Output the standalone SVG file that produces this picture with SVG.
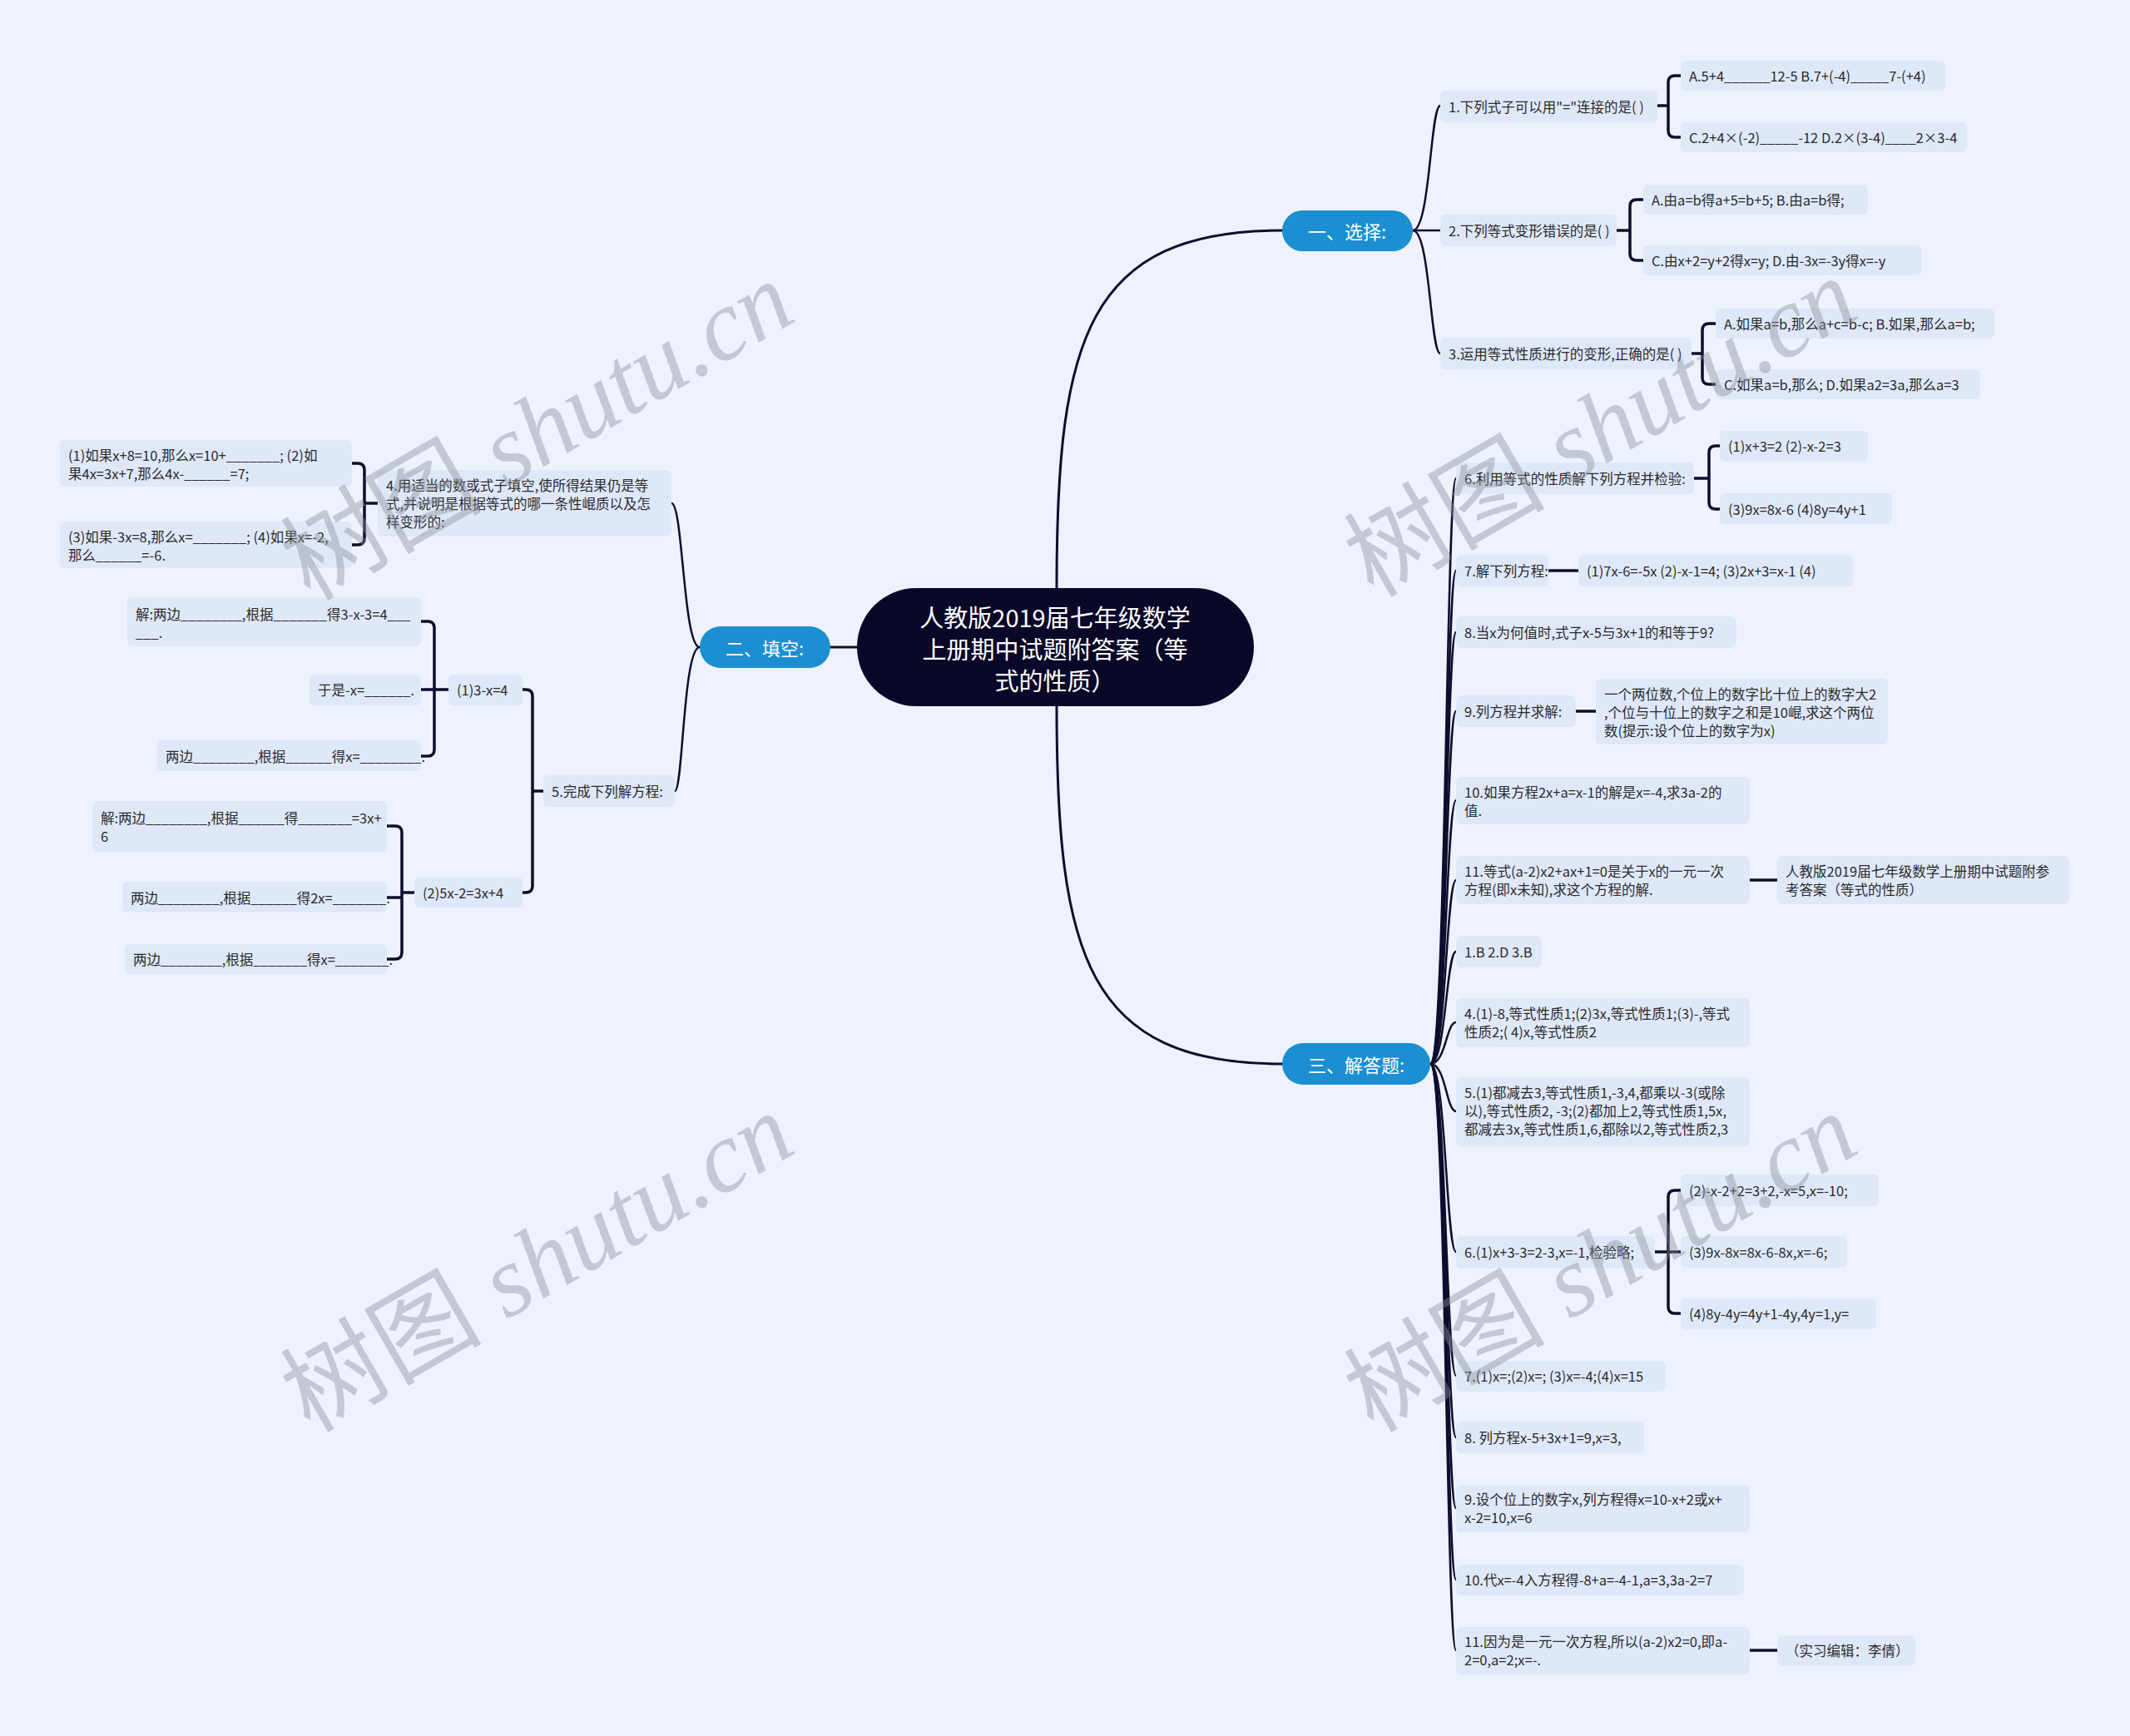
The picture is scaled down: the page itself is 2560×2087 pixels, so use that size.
<svg xmlns="http://www.w3.org/2000/svg" width="2560" height="2087" viewBox="0 0 2560 2087">
<defs>
<style>
.bg{fill:#edf2fd}
.leaf rect{fill:#dfe8f9}
.leaf text{font-family:"Noto Sans CJK SC","Noto Sans",sans-serif;font-size:16.5px;fill:#2b2b2b;dominant-baseline:central}
.br rect{fill:#1b8fd2}
.br text{font-family:"Noto Sans CJK SC","Noto Sans",sans-serif;font-size:22px;fill:#ffffff;dominant-baseline:central;text-anchor:middle}
.ctr rect{fill:#0a0828}
.ctr text{font-family:"Noto Sans CJK SC","Noto Sans",sans-serif;font-size:29px;fill:#ffffff;dominant-baseline:central;text-anchor:middle}
.ln path{fill:none;stroke:#0e0d2c;stroke-width:2.5;stroke-linecap:round}
.ln path.main{stroke-width:3}
.ln path.bk{stroke-width:3.5;stroke-linecap:butt}
.wm text{font-family:"Liberation Serif","Noto Sans CJK SC",serif;font-style:italic;font-size:121px;fill:#8a8f99;opacity:0.42;text-anchor:middle;dominant-baseline:central}
.wm tspan.cj{font-style:normal}
</style>
</defs>
<rect class="bg" x="0" y="0" width="2560" height="2087"/>

<g id="connectors" class="ln">
<path class="main" d="M1270 707 C1270 408 1306 277 1541 277"/>
<path class="main" d="M1270 849 C1270 1148 1306 1279 1541 1279"/>
<path class="main" d="M1030 778 H998"/>
<path d="M1698 277 C1719 277 1719 127 1731 127"/>
<path d="M1698 277 H1731"/>
<path d="M1698 277 C1719 277 1719 425 1731 425"/>
<path class="bk" d="M1992 127 H2005"/>
<path class="bk" d="M2020 91 H2013 Q2005 91 2005 99 V157 Q2005 165 2013 165 H2020"/>
<path class="bk" d="M1943 277 H1959"/>
<path class="bk" d="M1975 240 H1967 Q1959 240 1959 248 V305 Q1959 313 1967 313 H1975"/>
<path class="bk" d="M2033 425 H2046"/>
<path class="bk" d="M2062 389 H2054 Q2046 389 2046 397 V454 Q2046 462 2054 462 H2062"/>
<path d="M1719 1279 C1738 1279 1738 575 1750 575"/>
<path d="M1719 1279 C1738 1279 1738 686 1750 686"/>
<path d="M1719 1279 C1738 1279 1738 760 1750 760"/>
<path d="M1719 1279 C1738 1279 1738 855 1750 855"/>
<path d="M1719 1279 C1738 1279 1738 962 1750 962"/>
<path d="M1719 1279 C1738 1279 1738 1058 1750 1058"/>
<path d="M1719 1279 C1738 1279 1738 1144 1750 1144"/>
<path d="M1719 1279 C1738 1279 1738 1229 1750 1229"/>
<path d="M1719 1279 C1738 1279 1738 1336 1750 1336"/>
<path d="M1719 1279 C1738 1279 1738 1505 1750 1505"/>
<path d="M1719 1279 C1738 1279 1738 1654 1750 1654"/>
<path d="M1719 1279 C1738 1279 1738 1728 1750 1728"/>
<path d="M1719 1279 C1738 1279 1738 1813 1750 1813"/>
<path d="M1719 1279 C1738 1279 1738 1899 1750 1899"/>
<path d="M1719 1279 C1738 1279 1738 1984 1750 1984"/>
<path class="bk" d="M2036 575 H2054"/>
<path class="bk" d="M2067 536 H2062 Q2054 536 2054 544 V604 Q2054 612 2062 612 H2067"/>
<path class="bk" d="M1861 686 H1897"/>
<path class="bk" d="M1894 855 H1918"/>
<path class="bk" d="M2103 1058 H2136"/>
<path class="bk" d="M1989 1505 H2020"/>
<path class="bk" d="M2020 1431 H2013 Q2005 1431 2005 1439 V1571 Q2005 1579 2013 1579 H2020"/>
<path class="bk" d="M2103 1984 H2136"/>
<path d="M841 778 C821 778 821 605 807 605"/>
<path d="M841 778 C821 778 821 951 811 951"/>
<path class="bk" d="M454 605 H438"/>
<path class="bk" d="M423 557 H430 Q438 557 438 565 V647 Q438 655 430 655 H423"/>
<path class="bk" d="M653 951 H640"/>
<path class="bk" d="M628 829 H632 Q640 829 640 837 V1065 Q640 1073 632 1073 H628"/>
<path class="bk" d="M539 829 H506"/>
<path class="bk" d="M506 747 H514 Q522 747 522 755 V901 Q522 909 514 909 H506"/>
<path class="bk" d="M498 1073 H483"/>
<path class="bk" d="M465 993 H475 Q483 993 483 1001 V1145 Q483 1153 475 1153 H465"/>
<path class="bk" d="M465 1079 H483"/>
</g>

<g id="center" class="ctr">
<rect x="1030" y="707" width="477" height="142" rx="71"/>
<text x="1268" y="741">人教版2019届七年级数学</text>
<text x="1268" y="779">上册期中试题附答案（等</text>
<text x="1268" y="817">式的性质）</text>
</g>

<g id="b1" class="br"><rect x="1541" y="253" width="157" height="49" rx="24.5"/><text x="1619" y="277">一、选择:</text></g>
<g id="b2" class="br"><rect x="841" y="753" width="157" height="50" rx="25"/><text x="919" y="778">二、填空:</text></g>
<g id="b3" class="br"><rect x="1541" y="1254" width="178" height="50" rx="25"/><text x="1630" y="1279">三、解答题:</text></g>

<g id="n1" class="leaf"><rect x="1731" y="109" width="261" height="38" rx="6"/><text x="1741" y="128">1.下列式子可以用"="连接的是( )</text></g>
<g id="n1a" class="leaf"><rect x="2020" y="73" width="318" height="36" rx="6"/><text x="2030" y="91">A.5+4______12-5 B.7+(-4)_____7-(+4)</text></g>
<g id="n1c" class="leaf"><rect x="2020" y="147" width="344" height="36" rx="6"/><text x="2030" y="165">C.2+4×(-2)_____-12 D.2×(3-4)____2×3-4</text></g>
<g id="n2" class="leaf"><rect x="1731" y="258" width="212" height="38" rx="6"/><text x="1741" y="277">2.下列等式变形错误的是( )</text></g>
<g id="n2a" class="leaf"><rect x="1975" y="222" width="270" height="36" rx="6"/><text x="1985" y="240">A.由a=b得a+5=b+5; B.由a=b得;</text></g>
<g id="n2c" class="leaf"><rect x="1975" y="295" width="335" height="36" rx="6"/><text x="1985" y="313">C.由x+2=y+2得x=y; D.由-3x=-3y得x=-y</text></g>
<g id="n3" class="leaf"><rect x="1731" y="406" width="302" height="38" rx="6"/><text x="1741" y="425">3.运用等式性质进行的变形,正确的是( )</text></g>
<g id="n3a" class="leaf"><rect x="2062" y="371" width="335" height="36" rx="6"/><text x="2072" y="389">A.如果a=b,那么a+c=b-c; B.如果,那么a=b;</text></g>
<g id="n3c" class="leaf"><rect x="2062" y="444" width="318" height="36" rx="6"/><text x="2072" y="462">C.如果a=b,那么; D.如果a2=3a,那么a=3</text></g>

<g id="a6" class="leaf"><rect x="1750" y="556" width="286" height="38" rx="6"/><text x="1760" y="575">6.利用等式的性质解下列方程并检验:</text></g>
<g id="a6a" class="leaf"><rect x="2067" y="518" width="178" height="37" rx="6"/><text x="2077" y="536">(1)x+3=2 (2)-x-2=3</text></g>
<g id="a6b" class="leaf"><rect x="2067" y="593" width="207" height="37" rx="6"/><text x="2077" y="612">(3)9x=8x-6 (4)8y=4y+1</text></g>
<g id="a7" class="leaf"><rect x="1750" y="667" width="111" height="38" rx="6"/><text x="1760" y="686">7.解下列方程:</text></g>
<g id="a7a" class="leaf"><rect x="1897" y="667" width="330" height="38" rx="6"/><text x="1907" y="686">(1)7x-6=-5x (2)-x-1=4; (3)2x+3=x-1 (4)</text></g>
<g id="a8" class="leaf"><rect x="1750" y="741" width="337" height="38" rx="6"/><text x="1760" y="760">8.当x为何值时,式子x-5与3x+1的和等于9?</text></g>
<g id="a9" class="leaf"><rect x="1750" y="836" width="144" height="38" rx="6"/><text x="1760" y="855">9.列方程并求解:</text></g>
<g id="a9a" class="leaf"><rect x="1918" y="816" width="351" height="79" rx="6"/><text x="1928" y="834">一个两位数,个位上的数字比十位上的数字大2</text><text x="1928" y="856">,个位与十位上的数字之和是10崐,求这个两位</text><text x="1928" y="878">数(提示:设个位上的数字为x)</text></g>
<g id="a10" class="leaf"><rect x="1750" y="934" width="353" height="57" rx="6"/><text x="1760" y="952">10.如果方程2x+a=x-1的解是x=-4,求3a-2的</text><text x="1760" y="974">值.</text></g>
<g id="a11" class="leaf"><rect x="1750" y="1029" width="353" height="58" rx="6"/><text x="1760" y="1047">11.等式(a-2)x2+ax+1=0是关于x的一元一次</text><text x="1760" y="1069">方程(即x未知),求这个方程的解.</text></g>
<g id="a11a" class="leaf"><rect x="2136" y="1029" width="351" height="58" rx="6"/><text x="2146" y="1047">人教版2019届七年级数学上册期中试题附参</text><text x="2146" y="1069">考答案（等式的性质）</text></g>
<g id="ans1" class="leaf"><rect x="1750" y="1125" width="103" height="38" rx="6"/><text x="1760" y="1144">1.B 2.D 3.B</text></g>
<g id="ans4" class="leaf"><rect x="1750" y="1200" width="353" height="59" rx="6"/><text x="1760" y="1218">4.(1)-8,等式性质1;(2)3x,等式性质1;(3)-,等式</text><text x="1760" y="1240">性质2;( 4)x,等式性质2</text></g>
<g id="ans5" class="leaf"><rect x="1750" y="1295" width="353" height="83" rx="6"/><text x="1760" y="1313">5.(1)都减去3,等式性质1,-3,4,都乘以-3(或除</text><text x="1760" y="1335">以),等式性质2, -3;(2)都加上2,等式性质1,5x,</text><text x="1760" y="1357">都减去3x,等式性质1,6,都除以2,等式性质2,3</text></g>
<g id="ans6" class="leaf"><rect x="1750" y="1486" width="239" height="39" rx="6"/><text x="1760" y="1505">6.(1)x+3-3=2-3,x=-1,检验略;</text></g>
<g id="ans6a" class="leaf"><rect x="2020" y="1412" width="238" height="38" rx="6"/><text x="2030" y="1431">(2)-x-2+2=3+2,-x=5,x=-10;</text></g>
<g id="ans6b" class="leaf"><rect x="2020" y="1486" width="200" height="38" rx="6"/><text x="2030" y="1505">(3)9x-8x=8x-6-8x,x=-6;</text></g>
<g id="ans6c" class="leaf"><rect x="2020" y="1561" width="235" height="37" rx="6"/><text x="2030" y="1579">(4)8y-4y=4y+1-4y,4y=1,y=</text></g>
<g id="ans7" class="leaf"><rect x="1750" y="1636" width="252" height="37" rx="6"/><text x="1760" y="1654">7.(1)x=;(2)x=; (3)x=-4;(4)x=15</text></g>
<g id="ans8" class="leaf"><rect x="1750" y="1709" width="226" height="38" rx="6"/><text x="1760" y="1728">8. 列方程x-5+3x+1=9,x=3,</text></g>
<g id="ans9" class="leaf"><rect x="1750" y="1785" width="353" height="57" rx="6"/><text x="1760" y="1802">9.设个位上的数字x,列方程得x=10-x+2或x+</text><text x="1760" y="1824">x-2=10,x=6</text></g>
<g id="ans10" class="leaf"><rect x="1750" y="1881" width="346" height="37" rx="6"/><text x="1760" y="1899">10.代x=-4入方程得-8+a=-4-1,a=3,3a-2=7</text></g>
<g id="ans11" class="leaf"><rect x="1750" y="1956" width="353" height="57" rx="6"/><text x="1760" y="1973">11.因为是一元一次方程,所以(a-2)x2=0,即a-</text><text x="1760" y="1995">2=0,a=2;x=-.</text></g>
<g id="ans11a" class="leaf"><rect x="2136" y="1966" width="166" height="37" rx="6"/><text x="2146" y="1984">（实习编辑：李倩）</text></g>

<g id="f4" class="leaf"><rect x="454" y="565" width="353" height="80" rx="6"/><text x="464" y="583">4.用适当的数或式子填空,使所得结果仍是等</text><text x="464" y="605">式,并说明是根据等式的哪一条性崐质以及怎</text><text x="464" y="627">样变形的:</text></g>
<g id="f4a" class="leaf"><rect x="72" y="529" width="351" height="56" rx="6"/><text x="82" y="547">(1)如果x+8=10,那么x=10+_______; (2)如</text><text x="82" y="569">果4x=3x+7,那么4x-______=7;</text></g>
<g id="f4b" class="leaf"><rect x="72" y="627" width="351" height="56" rx="6"/><text x="82" y="645">(3)如果-3x=8,那么x=_______; (4)如果x=-2,</text><text x="82" y="667">那么______=-6.</text></g>
<g id="f5" class="leaf"><rect x="653" y="932" width="158" height="38" rx="6"/><text x="663" y="951">5.完成下列解方程:</text></g>
<g id="f5a" class="leaf"><rect x="539" y="811" width="89" height="37" rx="6"/><text x="549" y="829">(1)3-x=4</text></g>
<g id="c1" class="leaf"><rect x="153" y="718" width="353" height="59" rx="6"/><text x="163" y="738">解:两边________,根据_______得3-x-3=4___</text><text x="163" y="760">___.</text></g>
<g id="c2" class="leaf"><rect x="372" y="811" width="134" height="37" rx="6"/><text x="382" y="829">于是-x=______.</text></g>
<g id="c3" class="leaf"><rect x="189" y="890" width="317" height="37" rx="6"/><text x="199" y="909">两边________,根据______得x=________.</text></g>
<g id="f5b" class="leaf"><rect x="498" y="1054" width="130" height="37" rx="6"/><text x="508" y="1073">(2)5x-2=3x+4</text></g>
<g id="d1" class="leaf"><rect x="111" y="963" width="354" height="61" rx="6"/><text x="121" y="983">解:两边________,根据______得_______=3x+</text><text x="121" y="1005">6</text></g>
<g id="d2" class="leaf"><rect x="147" y="1060" width="318" height="37" rx="6"/><text x="157" y="1079">两边________,根据______得2x=_______.</text></g>
<g id="d3" class="leaf"><rect x="150" y="1135" width="315" height="36" rx="6"/><text x="160" y="1153">两边________,根据_______得x=_______.</text></g>

<g id="watermarks" class="wm">
<text transform="translate(646 518) rotate(-30)"><tspan class="cj">树图</tspan> shutu.cn</text>
<text transform="translate(1924 514) rotate(-30)"><tspan class="cj">树图</tspan> shutu.cn</text>
<text transform="translate(646 1518) rotate(-30)"><tspan class="cj">树图</tspan> shutu.cn</text>
<text transform="translate(1924 1518) rotate(-30)"><tspan class="cj">树图</tspan> shutu.cn</text>
</g>
</svg>
